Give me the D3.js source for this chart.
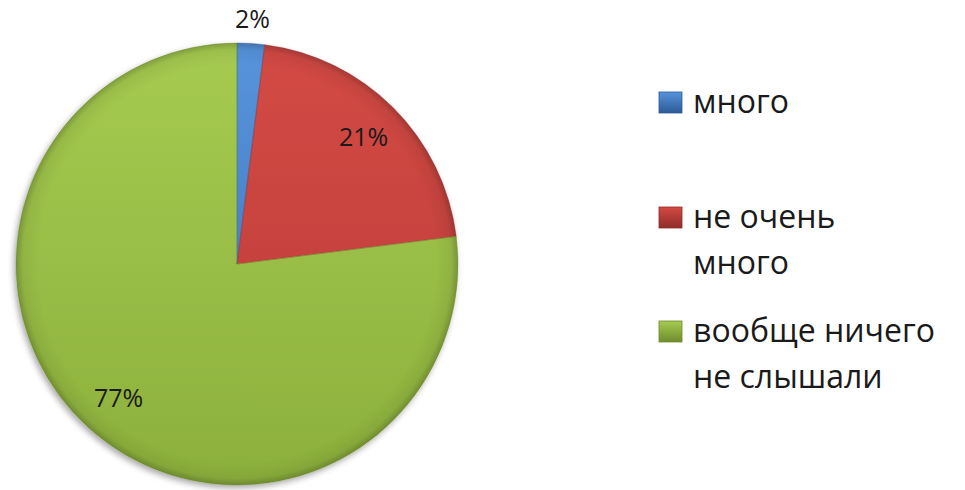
<!DOCTYPE html>
<html>
<head>
<meta charset="utf-8">
<script src="https://cdn.jsdelivr.net/npm/d3@7"></script>
<style>
  body { margin: 0; background: #fff; }
  svg { display: block; }
  text { font-family: "Open Sans", "DejaVu Sans", sans-serif; fill: #1a1a1a; }
</style>
</head>
<body>
<div class="c_pie"></div>
<script>
/*DATA
------------------------------------------------------
*/
const categories = ["много", "не очень много", "вообще ничего не слышали"];
const legendLines = [["много"], ["не очень", "много"], ["вообще ничего", "не слышали"]];
const values = [2, 21, 77];
const labels = ["2%", "21%", "77%"];

/*DIMENSIONS
------------------------------------------------------
*/
const width = 965, height = 490;
const cx = 237, cy = 264, radius = 221;

const colors = d3.scaleOrdinal()
	.domain(categories)
	.range([
		{top: "#5794dc", bottom: "#3a6fb5", dark: "#2c5a96"},
		{top: "#d34a44", bottom: "#bb3b38", dark: "#8f2c2a"},
		{top: "#a6cb50", bottom: "#8cb03c", dark: "#6e8c2e"}
	]);

const svg = d3.select(".c_pie")
	.append("svg")
	.attr("width", width)
	.attr("height", height);

const defs = svg.append("defs");

// ombre douce sous le camembert
const shadow = defs.append("filter")
	.attr("id", "shadow")
	.attr("x", "-10%").attr("y", "-10%")
	.attr("width", "120%").attr("height", "120%");
shadow.append("feDropShadow")
	.attr("dx", -2).attr("dy", 3)
	.attr("stdDeviation", 3)
	.attr("flood-color", "#000")
	.attr("flood-opacity", 0.35);

// un dégradé vertical par catégorie (coordonnées du groupe centré)
categories.forEach((c, i) => {
	const col = colors(c);
	const g = defs.append("linearGradient")
		.attr("id", "grad" + i)
		.attr("gradientUnits", "userSpaceOnUse")
		.attr("x1", 0).attr("y1", -radius)
		.attr("x2", 0).attr("y2", radius);
	g.append("stop").attr("offset", "0%").attr("stop-color", col.top);
	g.append("stop").attr("offset", "100%").attr("stop-color", col.bottom);

	const m = defs.append("linearGradient")
		.attr("id", "mark" + i)
		.attr("x1", 0).attr("y1", 0).attr("x2", 0).attr("y2", 1);
	m.append("stop").attr("offset", "0%").attr("stop-color", col.top);
	m.append("stop").attr("offset", "100%").attr("stop-color", col.dark);
});

// biseau : plus sombre vers le bord
const rim = defs.append("radialGradient")
	.attr("id", "rim")
	.attr("gradientUnits", "userSpaceOnUse")
	.attr("cx", 0).attr("cy", 0).attr("r", radius);
rim.append("stop").attr("offset", "90%").attr("stop-color", "#000").attr("stop-opacity", 0);
rim.append("stop").attr("offset", "97%").attr("stop-color", "#000").attr("stop-opacity", 0.06);
rim.append("stop").attr("offset", "100%").attr("stop-color", "#000").attr("stop-opacity", 0.22);

/*PIE
------------------------------------------------------
*/
const pie = d3.pie().sort(null).value(d => d);
const arcs = pie(values);

const arc = d3.arc().innerRadius(0).outerRadius(radius);
const labelArc = d3.arc().innerRadius(radius * 0.81).outerRadius(radius * 0.81);
const outerArc = d3.arc().innerRadius(radius * 1.11).outerRadius(radius * 1.11);

const gPie = svg.append("g")
	.attr("transform", `translate(${cx},${cy})`);

gPie.append("g")
	.attr("filter", "url(#shadow)")
	.selectAll("path")
	.data(arcs)
	.enter()
	.append("path")
	.attr("d", arc)
	.attr("fill", (d, i) => `url(#grad${i})`);

gPie.append("circle")
	.attr("r", radius)
	.attr("fill", "url(#rim)");

// bords des parts
gPie.selectAll(".edge")
	.data(arcs)
	.enter()
	.append("path")
	.attr("class", "edge")
	.attr("d", arc)
	.attr("fill", "none")
	.attr("stroke", (d, i) => colors(categories[i]).dark)
	.attr("stroke-opacity", 0.35)
	.attr("stroke-width", 1);

// étiquettes
gPie.selectAll(".lbl")
	.data(arcs)
	.enter()
	.append("text")
	.attr("class", "lbl")
	.attr("transform", (d, i) => `translate(${(i === 0 ? outerArc : labelArc).centroid(d)})`)
	.attr("text-anchor", "middle")
	.attr("dy", "0.35em")
	.attr("font-size", 25)
	.text((d, i) => labels[i]);

/*LEGEND
------------------------------------------------------
*/
const legendY = d3.scaleOrdinal()
	.domain(categories)
	.range([113, 228, 342]);
const lineH = 46;

const legend = svg.append("g")
	.selectAll("g")
	.data(categories)
	.enter()
	.append("g")
	.attr("transform", d => `translate(659,${legendY(d)})`);

legend.append("rect")
	.attr("x", 0).attr("y", -21)
	.attr("width", 23).attr("height", 21)
	.attr("fill", (d, i) => `url(#mark${i})`)
	.attr("stroke", (d, i) => colors(d).dark)
	.attr("stroke-width", 0.8);

legend.append("text")
	.attr("x", 34)
	.attr("font-size", 32)
	.selectAll("tspan")
	.data((d, i) => legendLines[i])
	.enter()
	.append("tspan")
	.attr("x", 34)
	.attr("y", (d, j) => j * lineH)
	.text(d => d);
</script>
</body>
</html>
